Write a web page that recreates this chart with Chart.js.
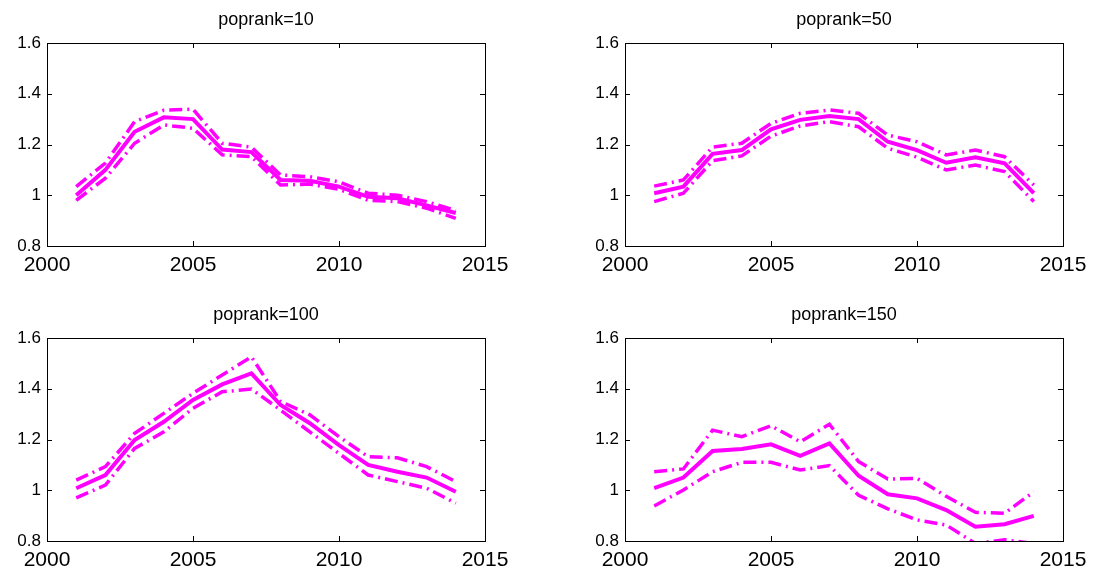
<!DOCTYPE html>
<html>
<head>
<meta charset="utf-8">
<script src="https://cdn.jsdelivr.net/npm/chart.js@4/dist/chart.umd.min.js"></script>
<style>
  html, body { margin: 0; padding: 0; background: #fff; }
  #wrap { position: relative; width: 1094px; height: 578px; }
  .panel { position: absolute; }
</style>
</head>
<body>
<div id="wrap"></div>
<script>
// years on the x axis
const years = [2001, 2002, 2003, 2004, 2005, 2006, 2007, 2008, 2009, 2010, 2011, 2012, 2013, 2014];
const xTicks = [2000, 2005, 2010, 2015];
const yTicks = [0.8, 1, 1.2, 1.4, 1.6];

// poprank=10
const mean10  = [1.00, 1.10, 1.25, 1.307, 1.30, 1.18, 1.17, 1.06, 1.057, 1.034, 0.994, 0.988, 0.96, 0.93];
const upper10 = [1.034, 1.127, 1.29, 1.335, 1.339, 1.205, 1.19, 1.08, 1.073, 1.053, 1.008, 1.00, 0.975, 0.94];
const lower10 = [0.98, 1.067, 1.205, 1.277, 1.264, 1.159, 1.152, 1.04, 1.044, 1.023, 0.98, 0.975, 0.949, 0.909];

// poprank=50
const mean50  = [1.008, 1.034, 1.163, 1.178, 1.26, 1.297, 1.312, 1.30, 1.211, 1.178, 1.128, 1.15, 1.126, 1.008];
const upper50 = [1.036, 1.06, 1.19, 1.205, 1.283, 1.323, 1.336, 1.323, 1.237, 1.211, 1.159, 1.178, 1.152, 1.04];
const lower50 = [0.975, 1.008, 1.136, 1.155, 1.233, 1.273, 1.29, 1.27, 1.185, 1.15, 1.10, 1.119, 1.093, 0.975];

// poprank=100
const mean100  = [1.008, 1.06, 1.198, 1.27, 1.356, 1.417, 1.461, 1.336, 1.264, 1.178, 1.10, 1.073, 1.05, 0.994];
const upper100 = [1.04, 1.093, 1.224, 1.303, 1.382, 1.454, 1.526, 1.35, 1.297, 1.211, 1.132, 1.128, 1.093, 1.034];
const lower100 = [0.97, 1.02, 1.165, 1.23, 1.323, 1.388, 1.399, 1.316, 1.23, 1.145, 1.06, 1.034, 1.008, 0.949];

// poprank=150
const mean150  = [1.008, 1.05, 1.155, 1.163, 1.181, 1.136, 1.185, 1.057, 0.984, 0.968, 0.922, 0.856, 0.866, 0.899];
const upper150 = [1.073, 1.084, 1.237, 1.211, 1.254, 1.191, 1.26, 1.113, 1.044, 1.047, 0.976, 0.913, 0.909, 0.994];
const lower150 = [0.938, 1.001, 1.073, 1.11, 1.11, 1.08, 1.097, 0.98, 0.927, 0.883, 0.863, 0.79, 0.805, 0.79];

const MAGENTA = '#ff00ff';
const FONT = '"Liberation Sans", Arial, Helvetica, sans-serif';

// canvas box and plot area for each panel (page pixels)
const panels = [
  { title: 'poprank=10',  mean: mean10,  upper: upper10,  lower: lower10,
    box: [0, 0, 547, 289],     area: [47, 43, 485, 246] },
  { title: 'poprank=50',  mean: mean50,  upper: upper50,  lower: lower50,
    box: [547, 0, 547, 289],   area: [625, 43, 1063, 246] },
  { title: 'poprank=100', mean: mean100, upper: upper100, lower: lower100,
    box: [0, 289, 547, 289],   area: [47, 338, 485, 541] },
  { title: 'poprank=150', mean: mean150, upper: upper150, lower: lower150,
    box: [547, 289, 547, 289], area: [625, 338, 1063, 541] }
];

// box around the plot area, inward tick marks on all four sides, title above
const framePlugin = {
  id: 'frame',
  afterDraw(chart, args, opts) {
    const { ctx, chartArea: a, scales } = chart;
    ctx.save();
    ctx.strokeStyle = '#000';
    ctx.lineWidth = 1;
    ctx.strokeRect(Math.round(a.left) + 0.5, Math.round(a.top) + 0.5,
      Math.round(a.right - a.left), Math.round(a.bottom - a.top));
    const len = 5;
    ctx.beginPath();
    xTicks.forEach((v) => {
      const px = Math.round(scales.x.getPixelForValue(v)) + 0.5;
      ctx.moveTo(px, a.bottom); ctx.lineTo(px, a.bottom - len);
      ctx.moveTo(px, a.top); ctx.lineTo(px, a.top + len);
    });
    yTicks.forEach((v) => {
      const py = Math.round(scales.y.getPixelForValue(v)) + 0.5;
      ctx.moveTo(a.left, py); ctx.lineTo(a.left + len, py);
      ctx.moveTo(a.right, py); ctx.lineTo(a.right - len, py);
    });
    ctx.stroke();

    ctx.fillStyle = '#000';
    ctx.font = '18px ' + FONT;
    ctx.textAlign = 'center';
    ctx.textBaseline = 'alphabetic';
    ctx.fillText(opts.text, (a.left + a.right) / 2, a.top - 18);
    ctx.restore();
  }
};

function toPoints(vals) {
  return vals.map((v, i) => ({ x: years[i], y: v }));
}

function bandDataset(vals) {
  return {
    data: toPoints(vals),
    borderColor: MAGENTA,
    borderWidth: 3.5,
    borderDash: [13, 5, 2, 5],
    pointRadius: 0,
    tension: 0,
    clip: 0
  };
}

const wrap = document.getElementById('wrap');

panels.forEach((p) => {
  const [bx, by, bw, bh] = p.box;
  const [al, at, ar, ab] = p.area;

  const div = document.createElement('div');
  div.className = 'panel';
  div.style.left = bx + 'px';
  div.style.top = by + 'px';
  div.style.width = bw + 'px';
  div.style.height = bh + 'px';
  const canvas = document.createElement('canvas');
  div.appendChild(canvas);
  wrap.appendChild(div);

  new Chart(canvas, {
    type: 'line',
    data: {
      datasets: [
        {
          data: toPoints(p.mean),
          borderColor: MAGENTA,
          borderWidth: 4,
          pointRadius: 0,
          tension: 0,
          clip: 0
        },
        bandDataset(p.upper),
        bandDataset(p.lower)
      ]
    },
    options: {
      responsive: true,
      maintainAspectRatio: false,
      animation: false,
      layout: { padding: { top: at - by, right: bx + bw - ar, left: 0, bottom: 0 } },
      plugins: {
        legend: { display: false },
        tooltip: { enabled: false },
        frame: { text: p.title }
      },
      scales: {
        x: {
          type: 'linear',
          min: 2000,
          max: 2015,
          grid: { display: false, drawTicks: false },
          border: { display: false },
          afterBuildTicks: (s) => { s.ticks = xTicks.map((v) => ({ value: v })); },
          afterFit: (s) => { s.height = by + bh - ab; },
          ticks: {
            color: '#000',
            padding: 7,
            maxRotation: 0,
            autoSkip: false,
            font: { family: FONT, size: 21 },
            callback: (v) => String(v)
          }
        },
        y: {
          min: 0.8,
          max: 1.6,
          grid: { display: false, drawTicks: false },
          border: { display: false },
          afterBuildTicks: (s) => { s.ticks = yTicks.map((v) => ({ value: v })); },
          afterFit: (s) => { s.width = al - bx; },
          ticks: {
            color: '#000',
            padding: 6,
            font: { family: FONT, size: 17 },
            callback: (v) => String(+Number(v).toFixed(1))
          }
        }
      }
    },
    plugins: [framePlugin]
  });
});
</script>
</body>
</html>
